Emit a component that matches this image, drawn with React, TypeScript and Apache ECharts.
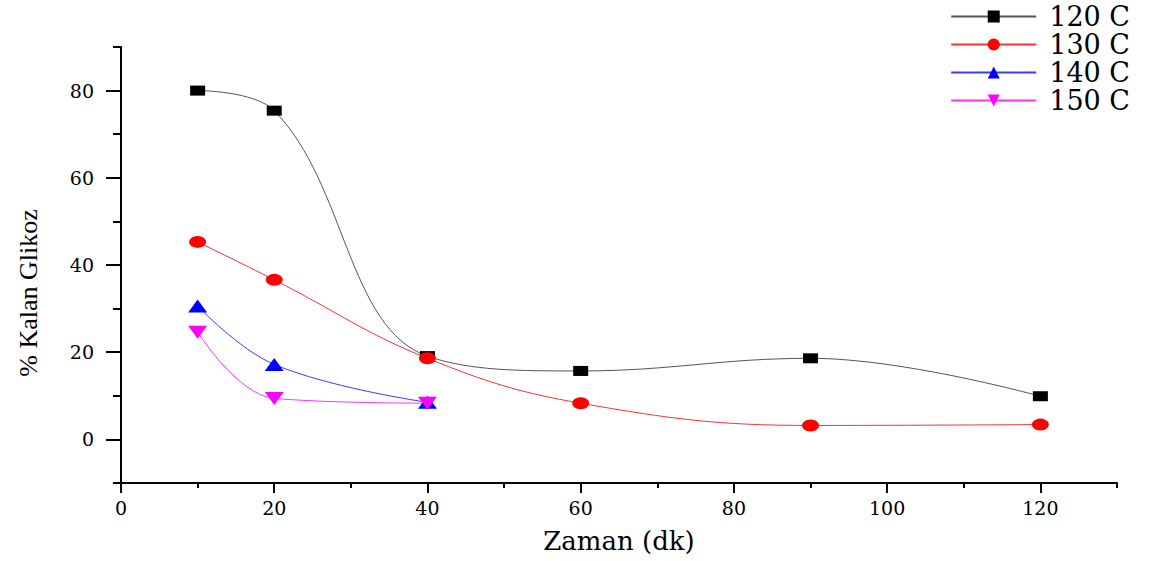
import React, { useEffect, useRef } from "react";
import * as echarts from "echarts";

const x120 = [10, 20, 40, 60, 90, 120];
const y120 = [80, 75.4, 19.1, 15.7, 18.6, 9.9];
const x130 = [10, 20, 40, 60, 90, 120];
const y130 = [45.3, 36.6, 18.6, 8.3, 3.2, 3.4];
const x140 = [10, 20, 40];
const y140 = [30.6, 17.2, 8.5];
const x150 = [10, 20, 40];
const y150 = [24.6, 9.4, 8.3];

const seriesNames = ["120 C", "130 C", "140 C", "150 C"];
const xMajor = [0, 20, 40, 60, 80, 100, 120];
const xMinor = [10, 30, 50, 70, 90, 110, 130];
const yMajor = [0, 20, 40, 60, 80];
const yMinor = [-10, 10, 30, 50, 70, 90];

const zip = (xs: number[], ys: number[]) => xs.map((x, i) => [x, ys[i]]);

const WIDE = "'DejaVu Serif', 'Liberation Serif', serif";
const TIMES = "'Liberation Serif', 'DejaVu Serif', serif";
const DOWN_TRI = "path://M0,0 L2,0 L1,1.4 Z";

export default function App() {
  const ref = useRef<HTMLDivElement>(null);
  useEffect(() => {
    if (!ref.current) return;
    const chart = echarts.init(ref.current, null, { renderer: "svg" });
    const mk = (name: string, data: number[][], color: string, lineColor: string, symbol: string, size: number[]) => ({
      name,
      type: "line",
      data,
      smooth: 0.4,
      symbol,
      symbolSize: size,
      showAllSymbol: true,
      lineStyle: { color: lineColor, width: 1 },
      itemStyle: { color },
      z: 3,
    });
    const baseX = { type: "value", min: 0, max: 130, splitLine: { show: false } };
    const baseY = { type: "value", min: -10, max: 90, splitLine: { show: false } };
    chart.setOption({
      animation: false,
      backgroundColor: "#ffffff",
      grid: { left: 121, right: 32, top: 47, bottom: 78, containLabel: false },
      legend: {
        orient: "vertical",
        right: 14,
        top: -2,
        itemWidth: 85,
        itemHeight: 15,
        itemGap: 1,
        data: seriesNames,
        textStyle: { fontFamily: WIDE, fontSize: 27, lineHeight: 27, color: "#000", padding: [0, 0, 0, 8] },
      },
      xAxis: [
        {
          ...baseX,
          name: "Zaman (dk)",
          nameLocation: "middle",
          nameGap: 45,
          nameTextStyle: { fontFamily: WIDE, fontSize: 26, color: "#000" },
          axisLine: { show: true, onZero: false, lineStyle: { color: "#000", width: 2 } },
          axisTick: { show: true, customValues: xMajor, length: 10, lineStyle: { color: "#000", width: 2 } },
          axisLabel: { customValues: xMajor, fontFamily: WIDE, fontSize: 19, color: "#000", margin: 15 },
        },
        {
          ...baseX,
          position: "bottom",
          axisLine: { show: false, onZero: false },
          axisTick: { show: true, customValues: xMinor, length: 5, lineStyle: { color: "#000", width: 2 } },
          axisLabel: { show: false },
        },
      ],
      yAxis: [
        {
          ...baseY,
          name: "% Kalan Glikoz",
          nameLocation: "middle",
          nameGap: 80,
          nameTextStyle: { fontFamily: TIMES, fontSize: 26, color: "#000", padding: [0, 56, 0, 0] },
          axisLine: { show: true, onZero: false, lineStyle: { color: "#000", width: 2 } },
          axisTick: { show: true, customValues: yMajor, length: 15, lineStyle: { color: "#000", width: 2 } },
          axisLabel: { customValues: yMajor, fontFamily: WIDE, fontSize: 19, color: "#000", margin: 27 },
        },
        {
          ...baseY,
          position: "left",
          axisLine: { show: false, onZero: false },
          axisTick: { show: true, customValues: yMinor, length: 8, lineStyle: { color: "#000", width: 2 } },
          axisLabel: { show: false },
        },
      ],
      series: [
        mk(seriesNames[0], zip(x120, y120), "#000000", "#555555", "rect", [15, 10]),
        mk(seriesNames[1], zip(x130, y130), "#ff0000", "#ff3030", "circle", [17, 12]),
        mk(seriesNames[2], zip(x140, y140), "#0000ff", "#3a3aff", "triangle", [19, 13]),
        mk(seriesNames[3], zip(x150, y150), "#ff00ff", "#ff30ff", DOWN_TRI, [19, 13]),
      ],
    });
    return () => chart.dispose();
  }, []);
  return <div ref={ref} style={{ width: 1149, height: 561, position: "absolute", left: 0, top: 0 }} />;
}
